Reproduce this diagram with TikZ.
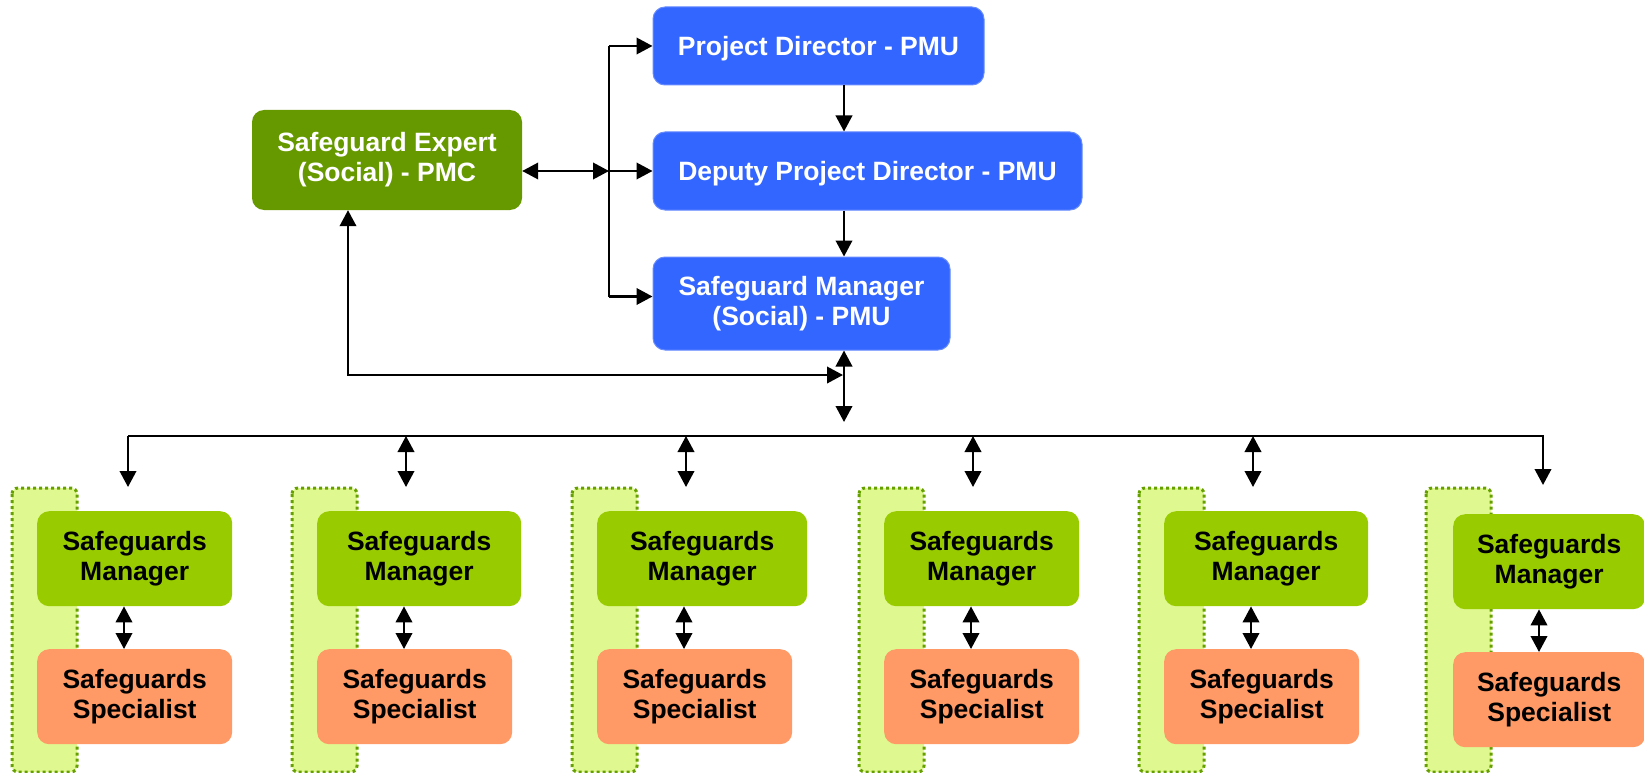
\documentclass[tikz,border=0pt]{standalone}
\usepackage{fontspec}
\setmainfont{Liberation Sans}
\usetikzlibrary{arrows.meta}

\definecolor{pmublue}{HTML}{3366FF}
\definecolor{pmcgreen}{HTML}{669900}
\definecolor{mgrgreen}{HTML}{99CC00}
\definecolor{specorange}{HTML}{FF9966}
\definecolor{teamfill}{HTML}{DFF890}
\definecolor{teamedge}{HTML}{66A000}

\tikzset{
  card/.style={rounded corners=12pt, inner sep=0pt, align=center,
    font=\bfseries\fontsize{26.5}{30}\selectfont,
    execute at begin node={\rule{0pt}{24pt}}},   % 首行补高，让大写字母居中
  pmu/.style={card, fill=pmublue, draw=pmublue!75!white, line width=1pt, text=white},
  pmc/.style={card, fill=pmcgreen, text=white},
  mgr/.style={card, fill=mgrgreen},
  spec/.style={card, fill=specorange},
  team/.style={draw=teamedge, fill=teamfill, line width=3pt,
    dash pattern=on 3pt off 3pt, rounded corners=6pt},
  tip/.tip={Triangle[length=16pt 0 0, width=16.5pt 0 0]},
  wire/.style={line width=2.2pt},
  link/.style={wire, -tip},
  both/.style={wire, tip-tip},
}

\begin{document}
\begin{tikzpicture}[x=1pt, y=-1pt, line cap=butt, line join=miter]
  %% ════ 顶部 PMU / PMC 方框 ════
  \node[pmu, minimum width=331, minimum height=78] (pd)  at (818.5,46)   {Project Director - PMU};
  \node[pmu, minimum width=429, minimum height=78] (dpd) at (867.5,171)  {Deputy Project Director - PMU};
  \node[pmu, minimum width=297, minimum height=93] (sm)  at (801.5,303.5) {Safeguard Manager\\(Social) - PMU};
  \node[pmc, minimum width=270, minimum height=100] (exp) at (387,160)   {Safeguard Expert\\(Social) - PMC};

  %% ════ 底部六组（虚线底框 + 经理 + 专员）════
  %% 各组：编号/底框左x/方框左x/经理宽/专员宽/下移量/内箭头x
  \foreach \i/\gx/\mx/\mw/\sw/\dy/\cx in {1/12/37/195/195/0/124, 2/292/317/204/195/0/404,
      3/572/597/210/195/0/684, 4/859/884/195/195/0/971, 5/1139/1164/204/195/0/1251,
      6/1426/1453/192/192/3/1539}{
    \draw[team] (\gx,488) rectangle ++(65,284);
    \node[mgr, anchor=north west, minimum width=\mw, minimum height=95] (m\i) at (\mx,511+\dy) {Safeguards\\Manager};
    \node[spec, anchor=north west, minimum width=\sw, minimum height=95] (s\i) at (\mx,649+\dy) {Safeguards\\Specialist};
    \draw[both] (m\i.south -| \cx,0) -- (s\i.north -| \cx,0);
  }

  %% ════ 连线 ════
  \coordinate (fork) at (609,171);   % 左侧竖线上的分叉点
  \coordinate (smin) at ([yshift=7pt]sm.west);
  \coordinate (tap)  at (844,422);   % 经理下方双向箭头的下端
  \coordinate (meet) at (843,375);
  \coordinate (busL) at (128,436);
  \coordinate (busR) at (1543,436);

  \draw[both] (exp.east |- dpd.west) -- (fork);
  \draw[wire] (fork |- pd.west) -- (fork |- smin);
  \draw[link] (fork |- pd.west) -- (pd.west);
  \draw[link] (fork) -- (dpd.west);
  \draw[link] (fork |- smin) -- (smin);

  \draw[link] (pd.south -| tap) -- (dpd.north -| tap);
  \draw[link] (dpd.south -| tap) -- (sm.north -| tap);
  \draw[both] (sm.south -| tap) -- (tap);
  \draw[both] ([xshift=-39pt]exp.south) |- (meet);

  % 横向总线：两端单向，中间四处双向
  \draw[link] (busL) -- ++(0,51);
  \draw[link] (busL) -- (busR) -- ++(0,49);
  \foreach \ax in {406,686,973,1253}
    \draw[both] (\ax,436) -- (\ax,487);

  % 钉死画布
  \pgfresetboundingbox
  \path[use as bounding box] (0,0) rectangle (1644,773);
\end{tikzpicture}
\end{document}
